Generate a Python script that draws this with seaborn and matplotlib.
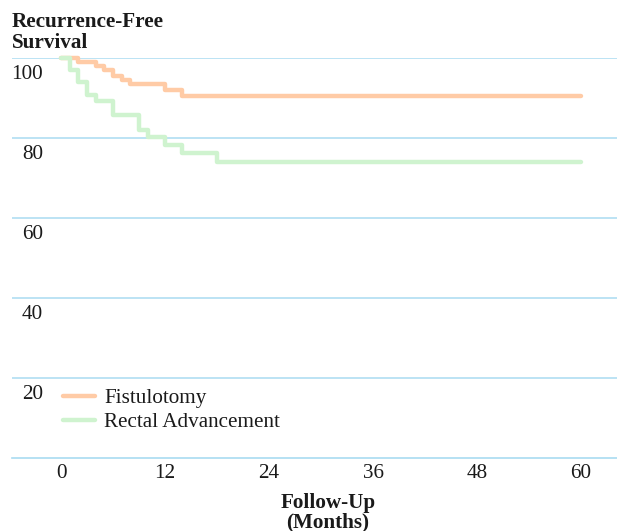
import numpy as np
import pandas as pd
import matplotlib
matplotlib.use("Agg")
import matplotlib.pyplot as plt
from matplotlib.transforms import ScaledTranslation
import seaborn as sns

# ---- data ----
groups = ["Fistulotomy", "Rectal Advancement"]
fist_months = [0, 2, 4, 5, 6, 7, 8, 12, 14, 60]
fist_surv = [100, 99.1, 98.0, 97.0, 95.6, 94.5, 93.4, 91.9, 90.6, 90.6]
rect_months = [0, 1, 2, 3, 4, 6, 9, 10, 12, 14, 18, 60]
rect_surv = [100, 96.9, 94.0, 90.7, 89.2, 85.8, 81.9, 80.2, 78.2, 76.2, 74.1, 74.1]
x_ticks = [0, 12, 24, 36, 48, 60]
y_ticks = [20, 40, 60, 80, 100]
colors = ["#FFCBA6", "#CFF3CF"]
grid_color = "#A9DBF1"

df = pd.concat([
    pd.DataFrame({"month": fist_months, "surv": fist_surv, "group": groups[0]}),
    pd.DataFrame({"month": rect_months, "surv": rect_surv, "group": groups[1]}),
], ignore_index=True)

sns.set_theme(style="white")
plt.rcParams["font.family"] = ["Liberation Serif", "DejaVu Serif"]
FS = 15.2
TXT = "#1a1a1a"

fig = plt.figure(figsize=(6.17, 5.31), dpi=100)
ax = fig.add_axes([12 / 617, (531 - 458) / 531, 605 / 617, 400 / 531])

sns.lineplot(data=df, x="month", y="surv", hue="group", palette=colors,
             estimator=None, drawstyle="steps-post", linewidth=3.2, ax=ax,
             clip_on=False)

ax.set_xlim(-5.654, 64.15)
ax.set_ylim(0, 100)

for s in ["top", "right", "left"]:
    ax.spines[s].set_visible(False)
ax.spines["bottom"].set_color(grid_color)
ax.spines["bottom"].set_linewidth(1.2)

ax.set_yticks(y_ticks)
ax.set_yticklabels([str(v) for v in y_ticks], fontsize=FS, color=TXT)
ax.yaxis.grid(True, color=grid_color, linewidth=1.1)
ax.tick_params(axis="y", length=0, pad=-31 * 0.72)
off = ScaledTranslation(0, -14 / 100, fig.dpi_scale_trans)
for lab in ax.get_yticklabels():
    lab.set_transform(lab.get_transform() + off)

ax.set_xticks(x_ticks)
ax.set_xticklabels([str(v) for v in x_ticks], fontsize=FS, color=TXT)
ax.tick_params(axis="x", direction="in", length=8, width=1.1, color=grid_color, pad=4)
ax.xaxis.grid(False)

ax.set_xlabel("")
ax.set_ylabel("")

fig.text(328 / 617, 1 - 503 / 531, "Follow-Up", ha="center", va="center",
         fontsize=FS, fontweight="bold", color=TXT)
fig.text(328 / 617, 1 - 522 / 531, "(Months)", ha="center", va="center",
         fontsize=FS, fontweight="bold", color=TXT)

fig.text(12 / 617, 1 - 22 / 531, "Recurrence-Free", ha="left", va="center",
         fontsize=FS, fontweight="bold", color=TXT)
fig.text(12 / 617, 1 - 43 / 531, "Survival", ha="left", va="center",
         fontsize=FS, fontweight="bold", color=TXT)

handles, labels = ax.get_legend_handles_labels()
leg = ax.legend(handles, labels, loc="upper left",
                bbox_to_anchor=((61 - 12) / 605 - 0.02 + 8 / 605, (458 - 382) / 400),
                frameon=False, fontsize=FS, handlelength=1.52,
                handletextpad=0.43, labelspacing=0.2, borderaxespad=0,
                borderpad=0.3)
for t in leg.get_texts():
    t.set_color(TXT)

fig.savefig("out.png", dpi=100)
